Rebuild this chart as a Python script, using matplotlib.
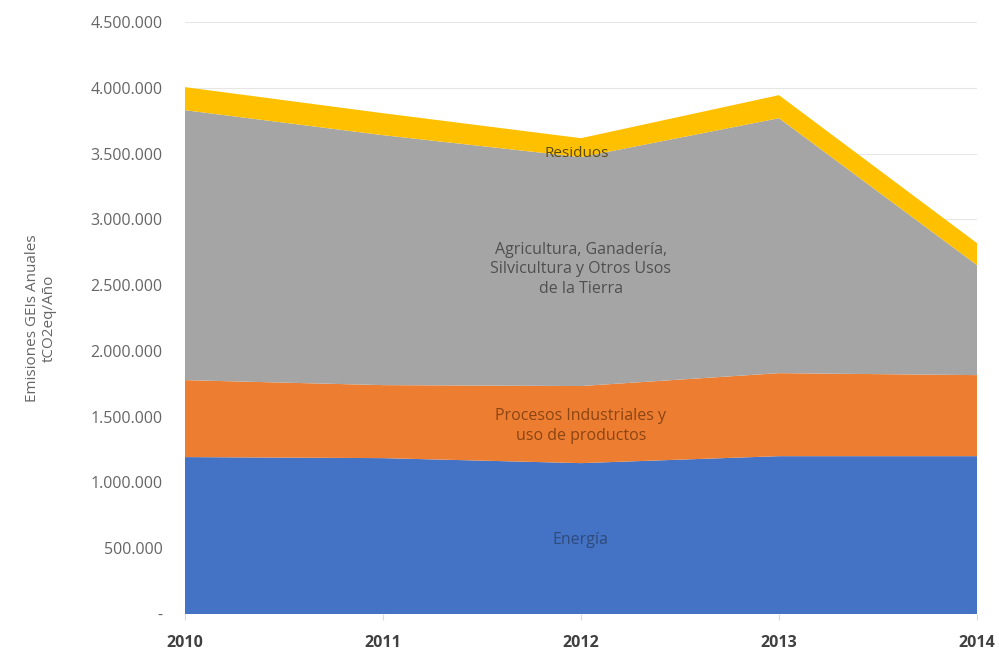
import numpy as np
import matplotlib
matplotlib.use("Agg")
import matplotlib.pyplot as plt
from matplotlib.ticker import FuncFormatter

# Emisiones por sector, tCO2eq/año
years = [2010, 2011, 2012, 2013, 2014]
energia = [1193000, 1185000, 1147000, 1200000, 1200000]
procesos = [585000, 555000, 586000, 631000, 616000]
afolu = [2052000, 1900000, 1740000, 1938000, 836000]
residuos = [175000, 167000, 144000, 175000, 167000]

labels = ["Energía", "Procesos Industriales y\nuso de productos",
          "Agricultura, Ganadería,\nSilvicultura y Otros Usos\nde la Tierra", "Residuos"]
colors = ["#4472C4", "#ED7D31", "#A5A5A5", "#FFC000"]

plt.rcParams['font.family'] = ['Open Sans', 'DejaVu Sans']

fig = plt.figure(figsize=(9.99, 6.57), dpi=100)
ax = fig.add_axes([0.185, 0.0654, 0.793, 0.9011])

ax.stackplot(years, energia, procesos, afolu, residuos, colors=colors, linewidth=0)

ax.set_xlim(2010, 2014)
ax.set_ylim(0, 4500000)
ax.set_yticks(np.arange(0, 4500001, 500000))
ax.yaxis.set_major_formatter(FuncFormatter(
    lambda v, p: "-" if v == 0 else "{:,.0f}".format(v).replace(",", ".")))
ax.set_xticks(years)
ax.grid(axis='y', color='#e6e6e6', linewidth=0.8)
ax.set_axisbelow(True)
for s in ax.spines.values():
    s.set_visible(False)
ax.tick_params(axis='y', length=0, labelsize=11.5, labelcolor='#666666', pad=16)
ax.tick_params(axis='x', length=4, color='#d9d9d9', labelsize=11.5, labelcolor='#404040', pad=11)
for t in ax.get_xticklabels():
    t.set_fontweight('bold')

ax.set_ylabel("Emisiones GEIs Anuales\ntCO2eq/Año", fontsize=11, color='#666666', labelpad=24)

# etiquetas sobre las areas
ax.text(2012, 560000, labels[0], ha='center', va='center', fontsize=11.5, color='#2F4B7C')
ax.text(2012.0, 1430000, labels[1], ha='center', va='center', fontsize=11.5, color='#8B4513',
        linespacing=1.3)
ax.text(2012.0, 2620000, labels[2], ha='center', va='center', fontsize=11.5, color='#505050',
        linespacing=1.3)
ax.text(2011.98, 3500000, labels[3], ha='center', va='center', fontsize=11, color='#5a4a10')

fig.savefig("out.png", dpi=100)
